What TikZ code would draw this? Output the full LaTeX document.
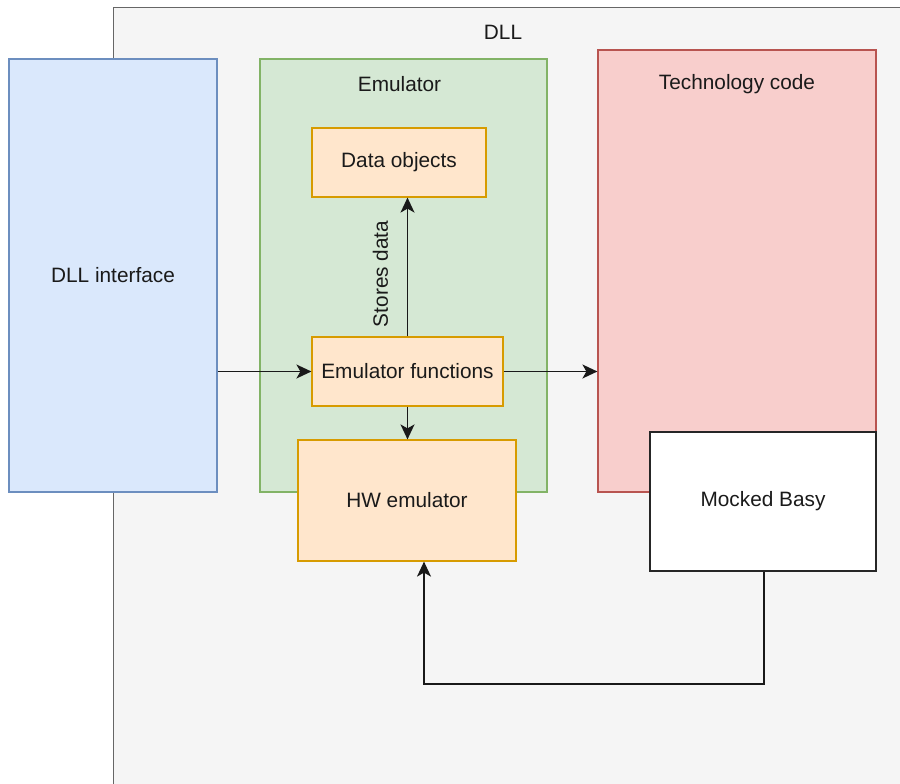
\documentclass[tikz,border=0pt]{standalone}
\usepackage{fontspec}
\setmainfont{Liberation Sans}
\usetikzlibrary{arrows.meta}
\definecolor{outerfill}{HTML}{F5F5F5}
\definecolor{outerline}{HTML}{666666}
\definecolor{bluefill}{HTML}{DAE8FC}
\definecolor{blueline}{HTML}{6C8EBF}
\definecolor{greenfill}{HTML}{D5E8D4}
\definecolor{greenline}{HTML}{82B366}
\definecolor{redfill}{HTML}{F8CECC}
\definecolor{redline}{HTML}{B85450}
\definecolor{orangefill}{HTML}{FFE6CC}
\definecolor{orangeline}{HTML}{D79B00}
\definecolor{txt}{HTML}{1A1A1A}
\tikzset{
  box/.style={rectangle, draw, line width=1.2pt, inner sep=0pt, text=txt,
    font=\fontsize{20.8}{24}\selectfont},
  bluebox/.style={box, fill=bluefill, draw=blueline},
  greenbox/.style={box, fill=greenfill, draw=greenline},
  redbox/.style={box, fill=redfill, draw=redline},
  orangebox/.style={box, fill=orangefill, draw=orangeline},
  whitebox/.style={box, fill=white, draw=black!85},
  lbl/.style={text=txt, font=\fontsize{20.8}{24}\selectfont, inner sep=0pt},
  conn/.style={line width=1.5pt, draw=black!90, -{Stealth[length=15pt,width=14pt,inset=4pt]}},
}
\begin{document}
\begin{tikzpicture}[x=1pt,y=-1pt]
\useasboundingbox (0,0) rectangle (900,784);
\clip (0,0) rectangle (900,784);
\fill[white] (0,0) rectangle (900,784);
% outer DLL container
\node[box, fill=outerfill, draw=outerline, minimum width=800pt, minimum height=790pt, anchor=north west] (dll) at (113,7) {};
\node[lbl] (dlllabel) at (503,32) {DLL};
% DLL interface
\node[bluebox, minimum width=208pt, minimum height=433pt] (iface) at (113,275.5) {DLL interface};
% Emulator group
\node[greenbox, minimum width=287pt, minimum height=433pt] (emu) at (403.5,275.5) {};
\node[lbl] (emulabel) at (399.5,84) {Emulator};
% Technology code
\node[redbox, minimum width=278pt, minimum height=442pt] (tech) at (737,271) {};
\node[lbl] (techlabel) at (737,84) {Technology code};
% inner boxes
\node[orangebox, minimum width=174pt, minimum height=69pt] (data) at (399,162.5) {Data objects};
\node[orangebox, minimum width=191pt, minimum height=69pt] (func) at (407.5,371.5) {Emulator functions};
\node[orangebox, minimum width=218pt, minimum height=121pt] (hw) at (407,500.5) {HW emulator};
\node[whitebox, minimum width=226pt, minimum height=139pt] (mock) at (763,501.5) {Mocked Basy};
% connectors
\draw[conn] (iface.east |- func.west) -- (func.west);
\draw[conn] (func.east) -- (tech.west |- func.east);
\draw[conn] (func.north) -- (func.north |- data.south) node[pos=0.45, lbl, rotate=90, yshift=27pt] {Stores data};
\draw[conn] (func.south) -- (func.south |- hw.north);
\coordinate (bend1) at (764,684);
\coordinate (bend2) at (424,684);
\draw[conn] (mock.south -| bend1) -- (bend1) -- (bend2) -- (bend2 |- hw.south);
\end{tikzpicture}
\end{document}
